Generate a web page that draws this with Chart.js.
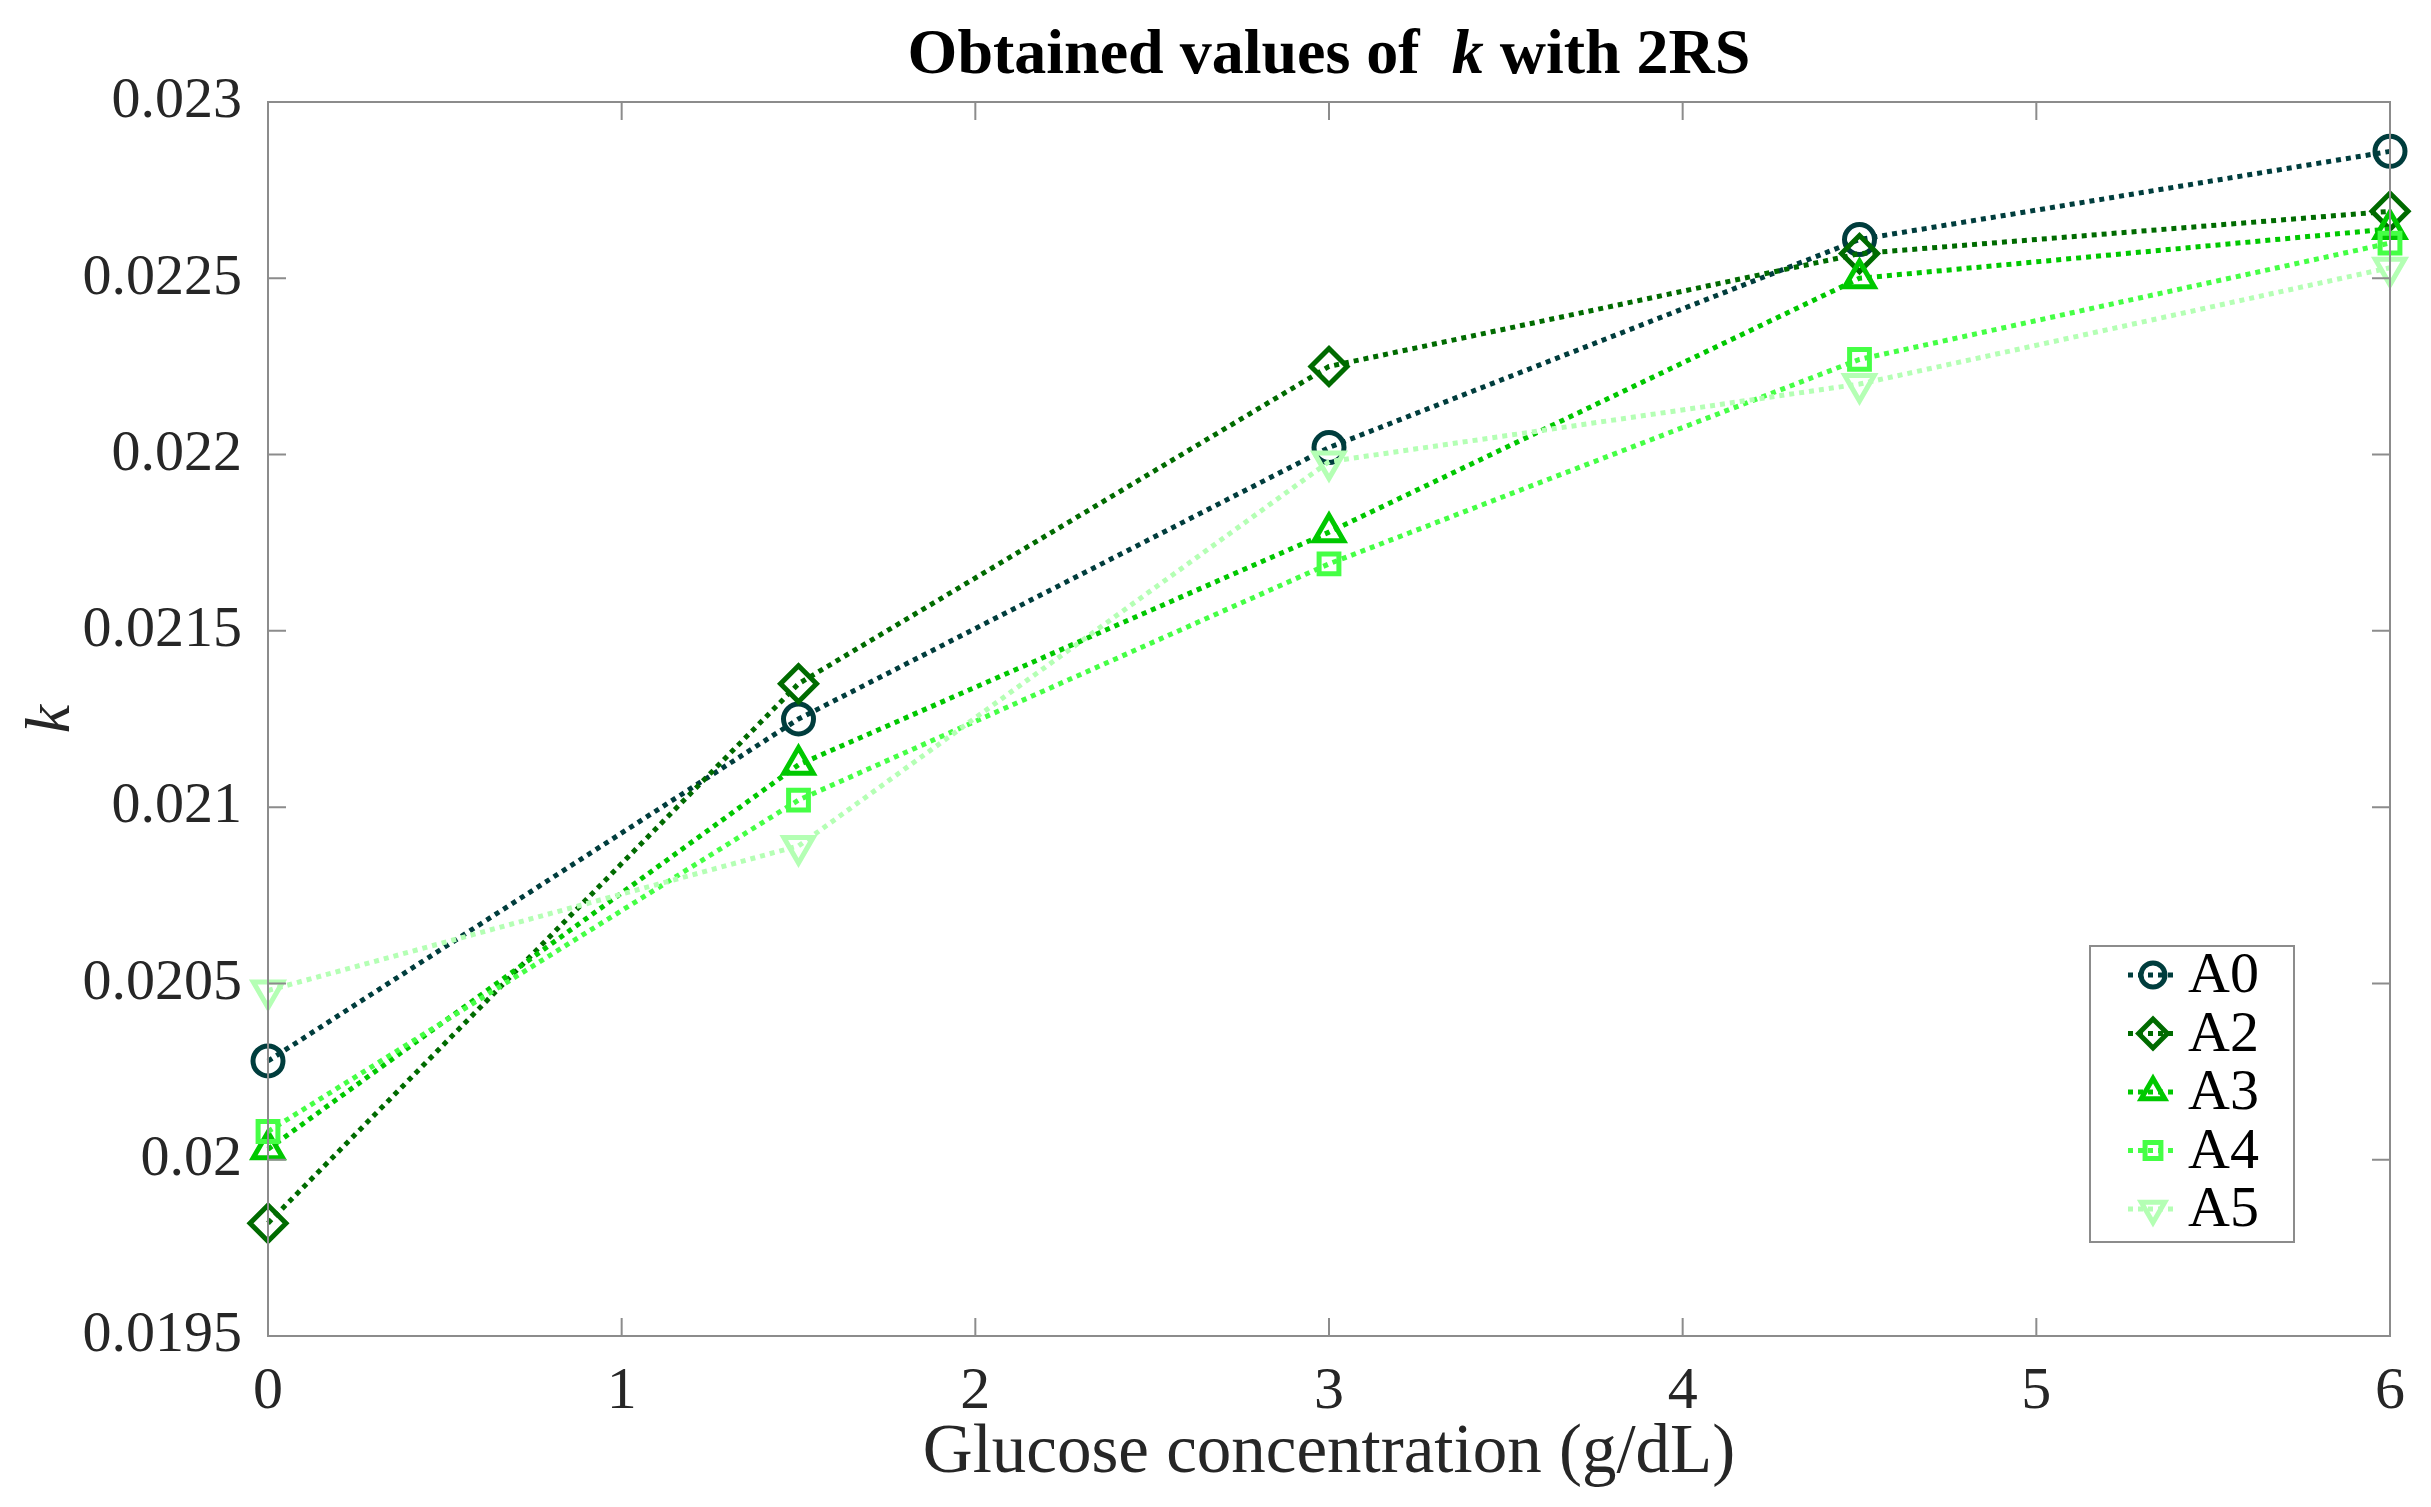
<!DOCTYPE html>
<html>
<head>
<meta charset="utf-8">
<script src="https://cdn.jsdelivr.net/npm/chart.js@4.4.1/dist/chart.umd.min.js"></script>
<style>
  html, body { margin: 0; padding: 0; background: #fff; }
  #wrap { width: 2431px; height: 1507px; }
</style>
</head>
<body>
<div id="wrap"><canvas id="chart" width="2431" height="1507"></canvas></div>
<script>
// glucose concentration (g/dL)
var glucose = [0, 1.5, 3, 4.5, 6];

// obtained k values per sample
var kA0 = [0.02028, 0.02125, 0.02202, 0.02261, 0.02286];
var kA2 = [0.01982, 0.02135, 0.02225, 0.02257, 0.02269];
var kA3 = [0.02003, 0.02112, 0.02178, 0.02250, 0.02264];
var kA4 = [0.02008, 0.02102, 0.02169, 0.02227, 0.02260];
var kA5 = [0.02048, 0.02089, 0.02198, 0.02220, 0.02253];

var seriesNames = ["A0", "A2", "A3", "A4", "A5"];
var xTicks = [0, 1, 2, 3, 4, 5, 6];
var yTicks = [0.0195, 0.02, 0.0205, 0.021, 0.0215, 0.022, 0.0225, 0.023];

var colors = ["#003d3d", "#006b00", "#00c800", "#45ff45", "#b4ffb4"];
var markers = [
  { style: "circle", rot: 0, r: 15 },
  { style: "rectRot", rot: 0, r: 18 },
  { style: "triangle", rot: 0, r: 17 },
  { style: "rect", rot: 0, r: 14 },
  { style: "triangle", rot: 180, r: 17 }
];

var FONT = "'Liberation Serif', 'DejaVu Serif', serif";

function pts(vals) {
  return glucose.map(function (g, i) { return { x: g, y: vals[i] }; });
}

var allSeries = [kA0, kA2, kA3, kA4, kA5];
var datasets = allSeries.map(function (vals, i) {
  return {
    label: seriesNames[i],
    data: pts(vals),
    borderColor: colors[i],
    backgroundColor: "rgba(0,0,0,0)",
    pointBorderColor: colors[i],
    pointBackgroundColor: "rgba(255,255,255,0)",
    borderWidth: 5,
    borderDash: [5, 5],
    pointStyle: markers[i].style,
    pointRotation: markers[i].rot,
    pointRadius: markers[i].r,
    pointBorderWidth: 5,
    pointHoverRadius: markers[i].r,
    tension: 0,
    fill: false,
    clip: false,
    order: 4 - i
  };
});

// box, inward ticks, title and legend
var boxPlugin = {
  id: "boxPlugin",
  afterDraw: function (chart) {
    var ctx = chart.ctx;
    var a = chart.chartArea;
    var xs = chart.scales.x, ys = chart.scales.y;
    ctx.save();
    ctx.strokeStyle = "#8c8c8c";
    ctx.lineWidth = 2;
    ctx.strokeRect(a.left, a.top, a.right - a.left, a.bottom - a.top);
    var tl = 18;
    ctx.beginPath();
    xTicks.forEach(function (t) {
      var px = xs.getPixelForValue(t);
      ctx.moveTo(px, a.bottom); ctx.lineTo(px, a.bottom - tl);
      ctx.moveTo(px, a.top); ctx.lineTo(px, a.top + tl);
    });
    yTicks.forEach(function (t) {
      var py = ys.getPixelForValue(t);
      ctx.moveTo(a.left, py); ctx.lineTo(a.left + tl, py);
      ctx.moveTo(a.right, py); ctx.lineTo(a.right - tl, py);
    });
    ctx.stroke();

    // title with italic k
    var parts = [
      { t: "Obtained values of  ", f: "bold 64px " + FONT },
      { t: "k", f: "bold italic 64px " + FONT },
      { t: " with 2RS", f: "bold 64px " + FONT }
    ];
    var total = 0;
    parts.forEach(function (p) { ctx.font = p.f; p.w = ctx.measureText(p.t).width; total += p.w; });
    var tx = (a.left + a.right) / 2 - total / 2;
    ctx.fillStyle = "#000";
    ctx.textBaseline = "middle";
    ctx.textAlign = "left";
    parts.forEach(function (p) { ctx.font = p.f; ctx.fillText(p.t, tx, 56); tx += p.w; });

    // legend in lower right
    var bw = 204, bh = 296;
    var bx = a.right - 96 - bw, by = a.bottom - 94 - bh;
    ctx.fillStyle = "#fff";
    ctx.fillRect(bx, by, bw, bh);
    ctx.strokeStyle = "#8c8c8c";
    ctx.lineWidth = 2;
    ctx.strokeRect(bx, by, bw, bh);
    chart.data.datasets.forEach(function (ds, i) {
      var cy = by + 29 + i * 58.5;
      var lx0 = bx + 38, lx1 = bx + 88, mx = bx + 63;
      ctx.strokeStyle = ds.borderColor;
      ctx.lineWidth = 5;
      ctx.setLineDash([5, 5]);
      ctx.beginPath(); ctx.moveTo(lx0, cy); ctx.lineTo(lx1, cy); ctx.stroke();
      ctx.setLineDash([]);
      ctx.fillStyle = "rgba(255,255,255,0)";
      Chart.helpers.drawPoint(ctx, {
        pointStyle: ds.pointStyle,
        rotation: ds.pointRotation,
        radius: ds.pointRadius * 0.8,
        borderWidth: 5
      }, mx, cy);
      ctx.fillStyle = "#000";
      ctx.font = "58px " + FONT;
      ctx.textBaseline = "middle";
      ctx.fillText(ds.label, bx + 98, cy + 2);
    });
    ctx.restore();
  }
};

new Chart(document.getElementById("chart"), {
  type: "line",
  data: { datasets: datasets },
  options: {
    responsive: false,
    animation: false,
    devicePixelRatio: 1,
    layout: { padding: { top: 102, right: 41, bottom: 0, left: 0 } },
    plugins: { legend: { display: false }, tooltip: { enabled: false }, title: { display: false } },
    scales: {
      x: {
        type: "linear",
        min: 0, max: 6,
        afterFit: function (s) { s.height = 171; },
        afterBuildTicks: function (s) { s.ticks = xTicks.map(function (v) { return { value: v }; }); },
        grid: { display: false },
        border: { display: false },
        ticks: { color: "#262626", font: { family: FONT, size: 60 }, padding: 12, maxRotation: 0 },
        title: {
          display: true, text: "Glucose concentration (g/dL)", color: "#262626",
          font: { family: FONT, size: 69 }, padding: { top: 0, bottom: 12 }
        }
      },
      y: {
        type: "linear",
        min: 0.0195, max: 0.023,
        afterFit: function (s) { s.width = 268; },
        afterBuildTicks: function (s) { s.ticks = yTicks.map(function (v) { return { value: v }; }); },
        grid: { display: false },
        border: { display: false },
        ticks: {
          color: "#262626", font: { family: FONT, size: 58 }, padding: 18,
          callback: function (v) { return String(parseFloat(v.toFixed(4))); }
        },
        title: {
          display: true, text: "k", color: "#262626",
          font: { family: FONT, size: 64, style: "italic" }, padding: { top: 14, bottom: 0 }
        }
      }
    }
  },
  plugins: [boxPlugin]
});
</script>
</body>
</html>
